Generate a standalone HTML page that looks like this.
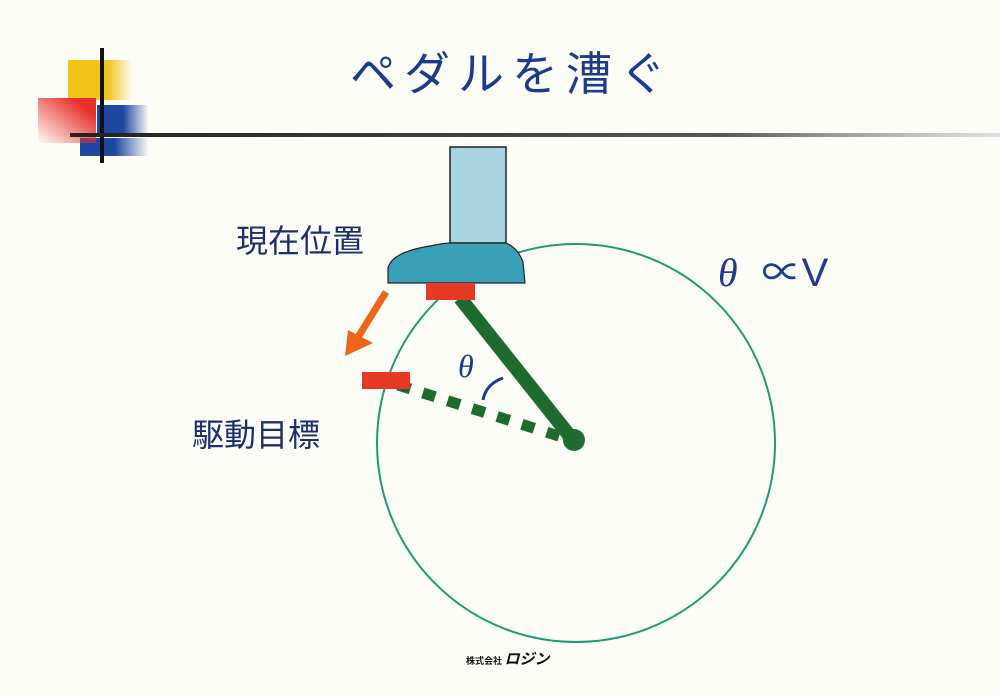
<!DOCTYPE html>
<html><head><meta charset="utf-8"><style>
body{margin:0;width:1000px;height:696px;background:#fdfdf8;overflow:hidden;position:relative;font-family:"Liberation Sans","Noto Sans CJK JP",sans-serif}
.t{position:absolute;color:#1b3c8c;white-space:nowrap}
</style></head><body>
<svg width="1000" height="696" style="position:absolute;left:0;top:0">
<defs>
<linearGradient id="y" x1="0" x2="1"><stop offset="0.6" stop-color="#f2c318"/><stop offset="1" stop-color="#f2c318" stop-opacity="0"/></linearGradient>
<linearGradient id="b" x1="0" x2="1"><stop offset="0.5" stop-color="#1e47a0"/><stop offset="1" stop-color="#1e47a0" stop-opacity="0"/></linearGradient>
<linearGradient id="r" x1="1" y1="0" x2="0" y2="1"><stop offset="0.2" stop-color="#e8302a"/><stop offset="1" stop-color="#e8302a" stop-opacity="0"/></linearGradient>
<linearGradient id="l" x1="0" x2="1"><stop offset="0" stop-color="#222"/><stop offset="0.7" stop-color="#555"/><stop offset="1" stop-color="#999" stop-opacity="0.3"/></linearGradient>
</defs>
<rect x="68" y="60" width="65" height="40" fill="url(#y)"/>
<rect x="97" y="105" width="52" height="32" fill="url(#b)"/>
<rect x="80" y="138" width="69" height="18" fill="url(#b)"/>
<rect x="38" y="98" width="58" height="45" fill="url(#r)"/>
<rect x="100" y="48" width="4" height="115" fill="#111"/>
<rect x="70" y="133" width="930" height="4" fill="url(#l)"/>
<circle cx="576" cy="443" r="199" fill="none" stroke="#1f9a78" stroke-width="2"/>
<rect x="450" y="147" width="56" height="96" fill="#a8d4e2" stroke="#222" stroke-width="1.5"/>
<path d="M388 283 L388 268 Q392 252 430 246 Q445 243 450 243 L506 243 Q518 248 523 262 L525 283 Z" fill="#3aa0b8" stroke="#222" stroke-width="1.2"/>
<line x1="460" y1="298" x2="573" y2="440" stroke="#1f6a2e" stroke-width="14"/>
<circle cx="574" cy="440" r="11" fill="#1f6a2e"/>
<line x1="398" y1="385" x2="565" y2="438" stroke="#1f6a2e" stroke-width="11" stroke-dasharray="13,13"/>
<rect x="426" y="283" width="49" height="17" fill="#e63a25"/>
<rect x="362" y="372" width="48" height="17" fill="#e63a25"/>
<line x1="386" y1="292" x2="355" y2="342" stroke="#ee6418" stroke-width="7"/>
<polygon points="345,356 348,330 373,343" fill="#ee6418"/>
<path d="M503 378 Q486 384 483 400" fill="none" stroke="#1b3c8c" stroke-width="3"/>
</svg>
<div class="t" style="left:350px;top:38px;font-size:46px;letter-spacing:8px">ペダルを漕ぐ</div>
<div class="t" style="left:236px;top:216px;font-size:32px;color:#1b2f70">現在位置</div>
<div class="t" style="left:192px;top:410px;font-size:32px;color:#1b2f70">駆動目標</div>
<div class="t" style="left:458px;top:348px;font-size:32px;font-style:italic;font-family:'Liberation Serif',serif">θ</div>
<div class="t" style="left:718px;top:240px;font-size:40px"><i style="font-family:'Liberation Serif',serif">θ</i><span style="margin-left:24px">∝V</span></div>
<div style="position:absolute;left:466px;top:648px;font-size:9px;font-weight:bold;color:#111">株式会社 <span style="font-size:15px;font-style:italic">ロジン</span></div>
</body></html>
